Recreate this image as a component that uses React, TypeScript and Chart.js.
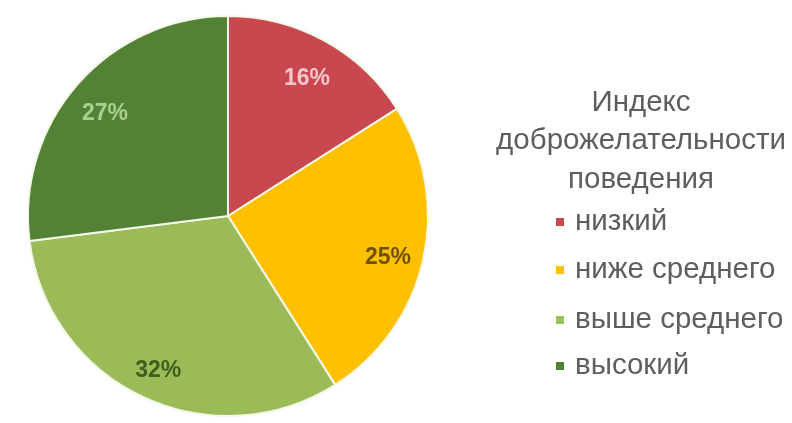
import React, { useEffect, useRef } from "react";
import { Chart, registerables } from "chart.js";

Chart.register(...registerables);

const categories = ["низкий", "ниже среднего", "выше среднего", "высокий"];
const values = [16, 25, 32, 27];
const colors = ["#C9474F", "#FFC000", "#9BBB59", "#538135"];
const labelColors = ["#F4C7CB", "#6E5200", "#3F5F1E", "#A9D08E"];
const legendTitle = ["Индекс", "доброжелательности", "поведения"];

const FONT = "'Liberation Sans', Arial, sans-serif";

const labelPlugin = {
  id: "pctLabels",
  afterDatasetsDraw(chart: any) {
    const ctx = chart.ctx;
    const meta = chart.getDatasetMeta(0);
    ctx.save();
    ctx.font = `bold 23px ${FONT}`;
    ctx.textAlign = "center";
    ctx.textBaseline = "middle";
    meta.data.forEach((arc: any, i: number) => {
      const p = arc.getProps(["x", "y", "startAngle", "endAngle", "outerRadius"], true);
      const mid = (p.startAngle + p.endAngle) / 2;
      const r = p.outerRadius * 0.82;
      ctx.fillStyle = labelColors[i];
      ctx.fillText(values[i] + "%", p.x + Math.cos(mid) * r, p.y + Math.sin(mid) * r + 6);
    });
    ctx.restore();
  },
};

const legendPlugin = {
  id: "customLegend",
  afterDraw(chart: any) {
    const ctx = chart.ctx;
    ctx.save();
    ctx.font = `29.5px ${FONT}`;
    ctx.fillStyle = "#5E5E5E";
    ctx.textAlign = "center";
    ctx.textBaseline = "middle";
    const titleY = [103, 141, 180];
    legendTitle.forEach((t, i) => ctx.fillText(t, 641, titleY[i]));
    ctx.textAlign = "left";
    const itemY = [222, 270, 320, 366];
    categories.forEach((c, i) => {
      ctx.fillStyle = colors[i];
      ctx.fillRect(556, itemY[i] - 4, 8, 8);
      ctx.fillStyle = "#5E5E5E";
      ctx.fillText(c, 575, itemY[i]);
    });
    ctx.restore();
  },
};

export default function App() {
  const ref = useRef<HTMLCanvasElement>(null);
  useEffect(() => {
    if (!ref.current) return;
    const chart = new Chart(ref.current, {
      type: "pie",
      data: {
        labels: categories,
        datasets: [
          {
            data: values,
            backgroundColor: colors,
            borderColor: "#F4F8E8",
            borderWidth: 2,
          },
        ],
      },
      options: {
        animation: false,
        responsive: false,
        layout: { padding: { left: 27, right: 363, top: 15, bottom: 6 } },
        plugins: {
          legend: { display: false },
          tooltip: { enabled: false },
        },
      },
      plugins: [labelPlugin, legendPlugin],
    });
    return () => chart.destroy();
  }, []);
  return (
    <div style={{ position: "fixed", left: 0, top: 0, width: 792, height: 423, background: "#fff" }}>
      <canvas ref={ref} width={792} height={423} />
    </div>
  );
}
